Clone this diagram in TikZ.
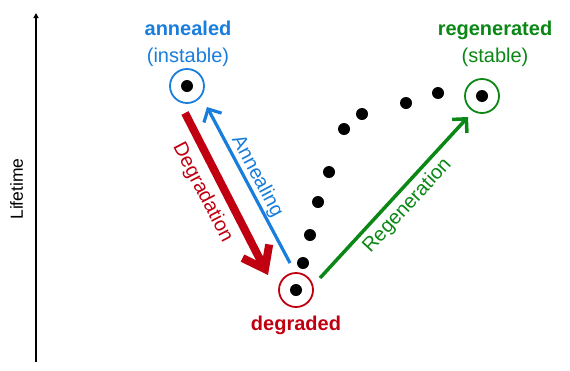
\documentclass[tikz,border=0pt]{standalone}
\usepackage{fontspec}
\setmainfont{Liberation Sans}
\usetikzlibrary{arrows.meta}
\definecolor{cblue}{RGB}{25,125,220}
\definecolor{cred}{RGB}{192,0,16}
\definecolor{cgreen}{RGB}{10,135,20}
\begin{document}
\begin{tikzpicture}[x=1pt,y=-1pt,
  state/.style={circle,draw,line width=1.8pt,minimum size=34pt,inner sep=0pt},
  lab/.style={font=\fontsize{20}{24}\selectfont,anchor=base,inner sep=0pt},
  side/.style={font=\fontsize{20}{24}\selectfont,inner sep=0pt},
  chain/.style={fill=black}]
\useasboundingbox (0,0) rectangle (570,370);
% axis
\coordinate (a0) at (36,362);
\coordinate (a1) at (36,13);
\draw[line width=1.2pt,-{Triangle[length=5pt,width=5pt]}] (a0) -- (a1);
\node[font=\fontsize{17.5}{20}\selectfont,rotate=90,anchor=base,inner sep=0pt] (lt) at (23,189) {Lifetime};
% states
\node[state,draw=cblue] (ann) at (187,86) {};
\node[state,draw=cgreen] (reg) at (482,96) {};
\node[state,draw=cred] (deg) at (296,290) {};
\foreach \n in {ann,reg,deg} \fill (\n) circle (6);
% state labels
\node[lab,text=cblue] (ann1) at (188,35) {\textbf{annealed}};
\node[lab,text=cblue] (ann2) at (188,62) {(instable)};
\node[lab,text=cgreen] (reg1) at (495,35) {\textbf{regenerated}};
\node[lab,text=cgreen] (reg2) at (495,62) {(stable)};
\node[lab,text=cred] (deg1) at (296,330) {\textbf{degraded}};
% dotted path
\foreach \p in {(438,93),(406,103),(362,114),(344,129),(329,172),(318,202),(310,235),(303,263)}
  \fill[chain] \p circle (6);
% arrows
\coordinate (r1) at (185,113);
\coordinate (r2) at (268,275);
\draw[cred,line width=8pt,-{Straight Barb[length=20pt,width=30pt]}] (r1) -- (r2);
\coordinate (b1) at (290,263);
\coordinate (b2) at (207,107);
\draw[cblue,line width=3.2pt,-{Straight Barb[length=10pt,width=20pt]}] (b1) -- (b2);
\coordinate (g1) at (320,278);
\coordinate (g2) at (468,117);
\draw[cgreen,line width=3.5pt,-{Straight Barb[length=10pt,width=20pt]}] (g1) -- (g2);
% arrow labels
\node[side,text=cred,rotate=-62.5] (lblD) at (202.5,192.5) {Degradation};
\node[side,text=cblue,rotate=-62] (lblA) at (257,176.5) {Annealing};
\node[side,text=cgreen,rotate=47.4] (lblR) at (407.5,206) {Regeneration};
\end{tikzpicture}
\end{document}
